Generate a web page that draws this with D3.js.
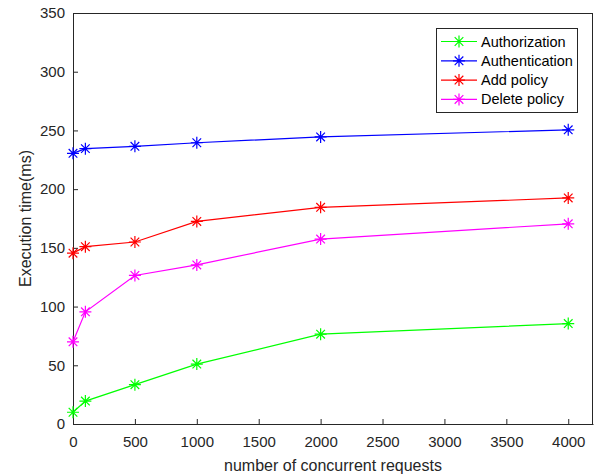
<!DOCTYPE html>
<html>
<head>
<meta charset="utf-8">
<script src="https://cdn.jsdelivr.net/npm/d3@7"></script>
<style>
  body { margin: 0; background: #fff; }
  svg { font-family: "Liberation Sans", Arial, sans-serif; }
</style>
</head>
<body>
<script>
const requests = [0, 100, 500, 1000, 2000, 4000];
const authorization = [10, 19.5, 33.5, 51, 76.5, 85.5];
const authentication = [230.5, 234.5, 236.5, 239.5, 244.5, 250.5];
const addPolicy = [145.5, 151, 155, 172.5, 184.5, 192.5];
const deletePolicy = [70, 95.5, 126.5, 135.5, 157.5, 170.5];
const seriesNames = ["Authorization", "Authentication", "Add policy", "Delete policy"];
const xTicks = [0, 500, 1000, 1500, 2000, 2500, 3000, 3500, 4000];
const yTicks = [0, 50, 100, 150, 200, 250, 300, 350];

const colors = ["#00ff00", "#0000ff", "#ff0000", "#ff00ff"];
const series = [authorization, authentication, addPolicy, deletePolicy];

const margin = { top: 13, right: 6, bottom: 52, left: 73 },
    width = 599 - margin.left - margin.right,
    height = 476 - margin.top - margin.bottom;

const svg = d3.select("body")
    .append("svg")
    .attr("width", 599)
    .attr("height", 476);

const g = svg.append("g")
    .attr("transform", "translate(" + margin.left + "," + margin.top + ")");

const x = d3.scaleLinear().domain([0, 4200]).range([0, width]);
const y = d3.scaleLinear().domain([0, 350]).range([height, 0]);

// axes, matlab style: ticks inside
const axisColor = "#262626";
const xAxis = g.append("g")
    .attr("transform", "translate(0," + height + ")")
    .call(d3.axisBottom(x).tickValues(xTicks).tickFormat(d3.format("d"))
        .tickSizeInner(-5).tickSizeOuter(0).tickPadding(12));
const yAxis = g.append("g")
    .call(d3.axisLeft(y).tickValues(yTicks).tickFormat(d3.format("d"))
        .tickSizeInner(-5).tickSizeOuter(0).tickPadding(8));

[xAxis, yAxis].forEach(a => {
    a.selectAll("text").style("font-size", "15px").attr("fill", axisColor)
        .style("font-family", "'Liberation Sans', Arial, sans-serif");
    a.selectAll("line").attr("stroke", axisColor);
    a.select(".domain").attr("stroke", axisColor);
});

// top and right box lines
g.append("line").attr("x1", 0).attr("x2", width).attr("y1", 0.5).attr("y2", 0.5)
    .attr("stroke", axisColor);
g.append("line").attr("x1", width - 0.5).attr("x2", width - 0.5).attr("y1", 0).attr("y2", height)
    .attr("stroke", axisColor);

// axis labels
svg.append("text")
    .attr("x", margin.left + width / 2)
    .attr("y", 471)
    .attr("text-anchor", "middle")
    .attr("fill", axisColor)
    .style("font-size", "16px")
    .text("number of concurrent requests");

svg.append("text")
    .attr("transform", "translate(31," + (margin.top + height / 2) + ") rotate(-90)")
    .attr("text-anchor", "middle")
    .attr("fill", axisColor)
    .style("font-size", "16px")
    .text("Execution time(ms)");

// asterisk marker
function star(sel, cx, cy, color, r) {
    const d = r * 0.72;
    const path = `M${cx - r},${cy}L${cx + r},${cy}M${cx},${cy - r}L${cx},${cy + r}` +
        `M${cx - d},${cy - d}L${cx + d},${cy + d}M${cx - d},${cy + d}L${cx + d},${cy - d}`;
    sel.append("path").attr("d", path).attr("stroke", color).attr("stroke-width", 1.2).attr("fill", "none");
}

const line = d3.line()
    .x((d, i) => x(requests[i]))
    .y(d => y(d));

series.forEach((s, k) => {
    const sg = g.append("g");
    sg.append("path")
        .datum(s)
        .attr("d", line)
        .attr("fill", "none")
        .attr("stroke", colors[k])
        .attr("stroke-width", 1.2);
    s.forEach((v, i) => star(sg, x(requests[i]), y(v), colors[k], 6));
});

// legend
const legend = svg.append("g").attr("transform", "translate(436,28)");
legend.append("rect")
    .attr("x", 0.5).attr("y", 0.5)
    .attr("width", 141).attr("height", 84)
    .attr("fill", "#fff")
    .attr("stroke", axisColor);
seriesNames.forEach((name, k) => {
    const ly = 13.5 + k * 19.3;
    legend.append("line")
        .attr("x1", 5).attr("x2", 41).attr("y1", ly).attr("y2", ly)
        .attr("stroke", colors[k]).attr("stroke-width", 1.2);
    star(legend, 23, ly, colors[k], 6);
    legend.append("text")
        .attr("x", 45).attr("y", ly + 5)
        .attr("fill", "#000")
        .style("font-size", "14.5px")
        .text(name);
});
</script>
</body>
</html>
